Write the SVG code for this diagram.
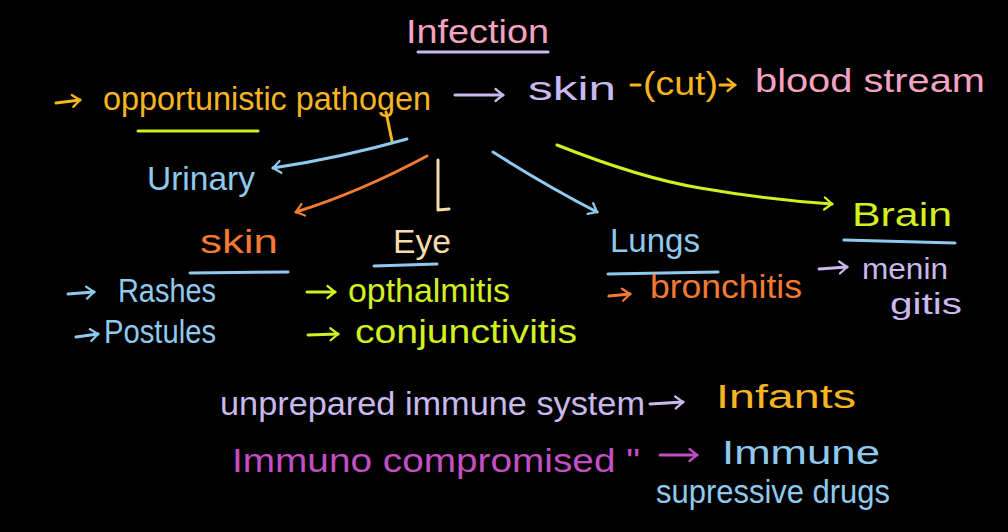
<svg xmlns="http://www.w3.org/2000/svg" width="1008" height="532" viewBox="0 0 1008 532">
<style>
text{font-family:"Liberation Sans","DejaVu Sans",sans-serif;font-size:34px}
.pink{fill:#f3a3c1}.lav{fill:#c9b9ee}.gold{fill:#f6b520}.lime{fill:#d2ef22}.blue{fill:#8fcaee}.orange{fill:#f27a32}.cream{fill:#f6dcab}.mag{fill:#c34fc4}
.ln{fill:none;stroke-width:3;stroke-linecap:round;stroke-linejoin:round}
.sm{font-size:29px}
</style>
<defs>
<marker id="aBlue" viewBox="0 0 12 12" refX="10" refY="6" markerWidth="9" markerHeight="9" orient="auto" markerUnits="userSpaceOnUse" style="overflow:visible"><path d="M0,-2 L10,6 L0,14" fill="none" stroke="#8fcaee" stroke-width="3" stroke-linecap="round"/></marker>
<marker id="aOrange" viewBox="0 0 12 12" refX="10" refY="6" markerWidth="9" markerHeight="9" orient="auto" markerUnits="userSpaceOnUse" style="overflow:visible"><path d="M0,-2 L10,6 L0,14" fill="none" stroke="#f27a32" stroke-width="3" stroke-linecap="round"/></marker>
<marker id="aLime" viewBox="0 0 12 12" refX="10" refY="6" markerWidth="9" markerHeight="9" orient="auto" markerUnits="userSpaceOnUse" style="overflow:visible"><path d="M0,-2 L10,6 L0,14" fill="none" stroke="#d2ef22" stroke-width="3" stroke-linecap="round"/></marker>
<marker id="aLav" viewBox="0 0 12 12" refX="10" refY="6" markerWidth="9" markerHeight="9" orient="auto" markerUnits="userSpaceOnUse" style="overflow:visible"><path d="M0,-2 L10,6 L0,14" fill="none" stroke="#c9b9ee" stroke-width="3" stroke-linecap="round"/></marker>
<marker id="aGold" viewBox="0 0 12 12" refX="10" refY="6" markerWidth="9" markerHeight="9" orient="auto" markerUnits="userSpaceOnUse" style="overflow:visible"><path d="M0,-2 L10,6 L0,14" fill="none" stroke="#f6b520" stroke-width="3" stroke-linecap="round"/></marker>
<marker id="aMag" viewBox="0 0 12 12" refX="10" refY="6" markerWidth="9" markerHeight="9" orient="auto" markerUnits="userSpaceOnUse" style="overflow:visible"><path d="M0,-2 L10,6 L0,14" fill="none" stroke="#c34fc4" stroke-width="3" stroke-linecap="round"/></marker>
</defs>
<rect width="1008" height="532" fill="#000"/>

<g id="connectors">
  <path class="ln" d="M56,103 L80,100" stroke="#f6b520" marker-end="url(#aGold)"/>
  <path class="ln" d="M455,95 L503,95" stroke="#c9b9ee" marker-end="url(#aLav)"/>
  <path class="ln" d="M631,85 L640,85" stroke="#f6b520"/>
  <path class="ln" d="M720,85 L735,85" stroke="#f6b520" marker-end="url(#aGold)"/>
  <path class="ln" d="M386,112 L392,141" stroke="#f6b520"/>
  <path class="ln" d="M407,139 Q340,158 273,168" stroke="#8fcaee" marker-end="url(#aBlue)"/>
  <path class="ln" d="M427,156 Q360,192 296,212" stroke="#f27a32" marker-end="url(#aOrange)"/>
  <path class="ln" d="M438,160 L438,210 L449,209" stroke="#f6dcab"/>
  <path class="ln" d="M493,152 Q545,185 597,212" stroke="#8fcaee" marker-end="url(#aBlue)"/>
  <path class="ln" d="M557,145 Q640,178 700,188 Q770,200 832,204" stroke="#d2ef22" marker-end="url(#aLime)"/>
  <path class="ln" d="M68,294 L94,292" stroke="#8fcaee" marker-end="url(#aBlue)"/>
  <path class="ln" d="M76,337 L98,334" stroke="#8fcaee" marker-end="url(#aBlue)"/>
  <path class="ln" d="M307,292 L335,292" stroke="#d2ef22" marker-end="url(#aLime)"/>
  <path class="ln" d="M308,335 L338,334" stroke="#d2ef22" marker-end="url(#aLime)"/>
  <path class="ln" d="M609,296 L630,294" stroke="#f27a32" marker-end="url(#aOrange)"/>
  <path class="ln" d="M819,269 L847,267" stroke="#c9b9ee" marker-end="url(#aLav)"/>
  <path class="ln" d="M650,404 L683,402" stroke="#c9b9ee" marker-end="url(#aLav)"/>
  <path class="ln" d="M660,455 L697,455" stroke="#c34fc4" marker-end="url(#aMag)"/>
</g>

<g id="title">
  <text class="pink" x="406" y="43" textLength="143" lengthAdjust="spacingAndGlyphs">Infection</text>
  <path class="ln" d="M418,52 L548,52" stroke="#c9b9ee"/>
</g>
<g id="pathogen">
  <text class="gold" x="103" y="110" textLength="328" lengthAdjust="spacingAndGlyphs">opportunistic pathogen</text>
  <path class="ln" d="M138,131 L258,131" stroke="#d2ef22"/>
</g>
<g id="skin-top"><text class="lav" x="528" y="100" textLength="88" lengthAdjust="spacingAndGlyphs">skin</text></g>
<g id="cut"><text class="gold" x="643" y="95" textLength="75" lengthAdjust="spacingAndGlyphs">(cut)</text></g>
<g id="bloodstream"><text class="pink" x="755" y="92" textLength="230" lengthAdjust="spacingAndGlyphs">blood stream</text></g>
<g id="urinary"><text class="blue" x="147" y="190" textLength="108" lengthAdjust="spacingAndGlyphs">Urinary</text></g>
<g id="skin">
  <text class="orange" x="200" y="253" textLength="78" lengthAdjust="spacingAndGlyphs">skin</text>
  <path class="ln" d="M190,273 L288,272" stroke="#8fcaee"/>
</g>
<g id="eye">
  <text class="cream" x="393" y="253" textLength="58" lengthAdjust="spacingAndGlyphs">Eye</text>
  <path class="ln" d="M374,266 L437,264" stroke="#8fcaee"/>
</g>
<g id="lungs">
  <text class="blue" x="610" y="252" textLength="90" lengthAdjust="spacingAndGlyphs">Lungs</text>
  <path class="ln" d="M608,274 L718,272" stroke="#8fcaee"/>
</g>
<g id="brain">
  <text class="lime" x="852" y="226" textLength="100" lengthAdjust="spacingAndGlyphs">Brain</text>
  <path class="ln" d="M844,240 L955,243" stroke="#8fcaee"/>
</g>
<g id="rashes"><text class="blue" x="118" y="302" textLength="98" lengthAdjust="spacingAndGlyphs">Rashes</text></g>
<g id="postules"><text class="blue" x="104" y="343" textLength="112" lengthAdjust="spacingAndGlyphs">Postules</text></g>
<g id="opthalmitis"><text class="lime" x="348" y="302" textLength="162" lengthAdjust="spacingAndGlyphs">opthalmitis</text></g>
<g id="conjunctivitis"><text class="lime" x="355" y="343" textLength="222" lengthAdjust="spacingAndGlyphs">conjunctivitis</text></g>
<g id="bronchitis"><text class="orange" x="650" y="298" textLength="152" lengthAdjust="spacingAndGlyphs">bronchitis</text></g>
<g id="meningitis">
  <text class="lav sm" x="862" y="279" textLength="86" lengthAdjust="spacingAndGlyphs">menin</text>
  <text class="lav sm" x="890" y="314" textLength="72" lengthAdjust="spacingAndGlyphs">gitis</text>
</g>
<g id="unprepared"><text class="lav" x="220" y="415" textLength="425" lengthAdjust="spacingAndGlyphs">unprepared immune system</text></g>
<g id="infants"><text class="gold" x="716" y="408" textLength="140" lengthAdjust="spacingAndGlyphs">Infants</text></g>
<g id="immunocompromised"><text class="mag" x="232" y="472" textLength="408" lengthAdjust="spacingAndGlyphs">Immuno compromised "</text></g>
<g id="immunesupressive">
  <text class="blue" x="722" y="464" textLength="158" lengthAdjust="spacingAndGlyphs">Immune</text>
  <text class="blue" x="656" y="503" textLength="234" lengthAdjust="spacingAndGlyphs">supressive drugs</text>
</g>
</svg>
